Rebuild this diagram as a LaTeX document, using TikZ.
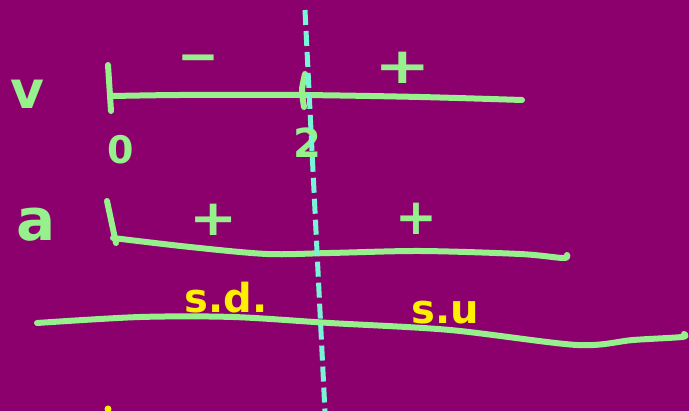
\documentclass[tikz,border=0pt]{standalone}
\usepackage{fontspec}
\setmainfont{DejaVu Sans}
\definecolor{bg}{RGB}{140,0,110}
\definecolor{grn}{RGB}{150,240,140}
\definecolor{cyn}{RGB}{120,245,215}
\definecolor{ylw}{RGB}{255,240,0}
\begin{document}
\begin{tikzpicture}[x=1pt,y=-1pt,line cap=round,line join=round,
  stroke/.style={draw=grn,line width=6pt},
  lbl/.style={text=grn,inner sep=0pt},
  sign/.style={lbl,font=\fontsize{50}{50}\selectfont\bfseries},
  ylbl/.style={text=ylw,inner sep=0pt,font=\fontsize{40}{40}\selectfont\bfseries}]
\fill[bg] (0,0) rectangle (689,411);
\useasboundingbox (0,0) rectangle (689,411);
% labels
\node[lbl,font=\fontsize{52}{52}\selectfont\bfseries] (v) at (27,94) {v};
\node[lbl,font=\fontsize{58}{58}\selectfont\bfseries] (a) at (36,225) {a};
\node[lbl,font=\fontsize{38}{38}\selectfont\bfseries] (zero) at (121,150) {0};
\node[lbl,font=\fontsize{40}{40}\selectfont\bfseries] (two) at (307,143) {2};
\node[sign] (vminus) at (198,64) {−};
\node[sign,xscale=1.35] (vplus) at (403,68) {+};
\node[sign,xscale=1.15] (aplus1) at (214,220) {+};
\node[sign] (aplus2) at (416,219) {+};
\node[ylbl] (sd) at (226,298) {s.d.};
\node[ylbl] (su) at (445,313) {s.u};
% v axis
\draw[stroke] (108,65) -- (111,111);
\draw[stroke] plot[smooth] coordinates {(113,96) (180,95) (300,95) (420,97) (522,100)};
\draw[stroke] plot[smooth] coordinates {(305,74) (302,90) (304,107)};
% a axis
\draw[stroke] (107,201) -- (116,243);
\draw[stroke] plot[smooth,tension=0.5] coordinates {(113,238) (190,247) (267,254) (330,253) (420,251) (520,254) (563,258) (567,255)};
% bottom line
\draw[stroke] plot[smooth,tension=0.5] coordinates {(37,323) (140,317) (233,317) (330,323) (450,330) (577,345) (633,340) (682,337) (684,334)};
% dashed divider
\coordinate (dtop) at (305,10);
\coordinate (dbot) at (325,412);
\draw[cyn,line width=5pt,line cap=butt,dash pattern=on 15pt off 6pt] (dtop) -- (dbot);
% partial yellow mark
\fill[ylw] (108,409) circle (3.5);
\end{tikzpicture}
\end{document}
